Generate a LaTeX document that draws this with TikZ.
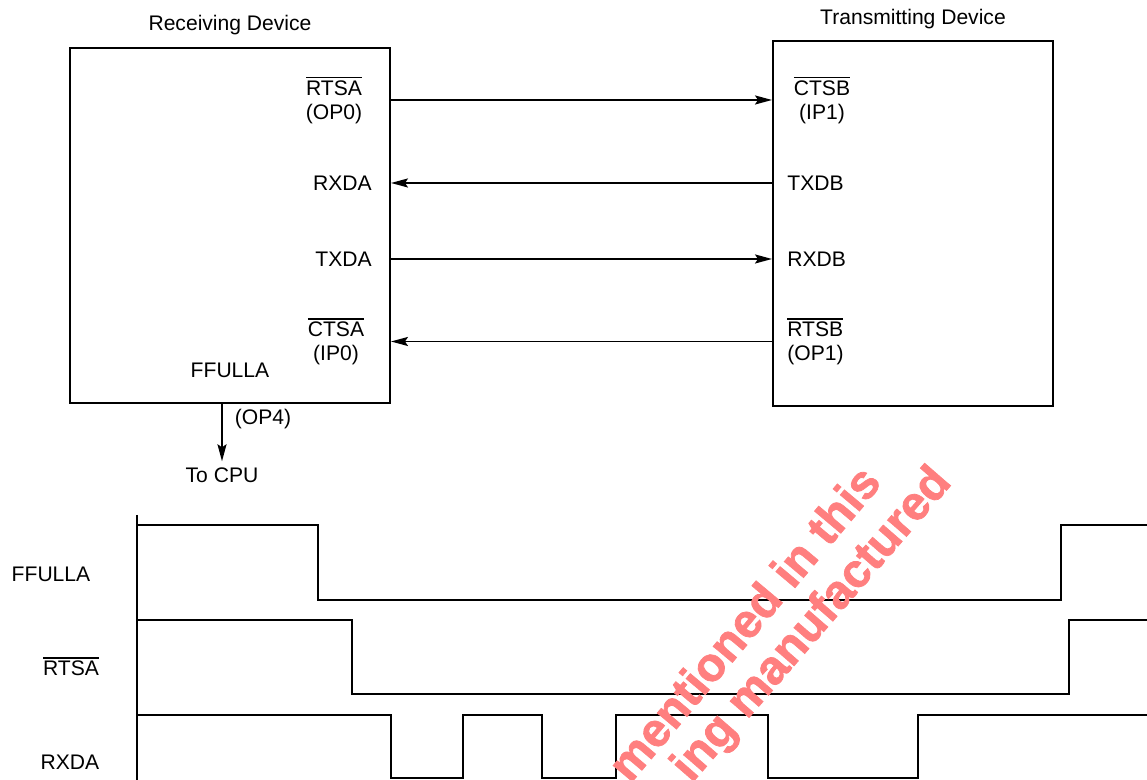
\documentclass[tikz,border=0pt]{standalone}
\usepackage{fontspec}
\setmainfont{Liberation Sans}
\newfontfamily\stampFont[BoldFeatures={FakeBold=1.6}]{Liberation Sans}
\usepackage{xcolor}
\usepackage{tikz}
\usetikzlibrary{arrows.meta, positioning}
\definecolor{stampRed}{HTML}{FF7F7F}
\newcommand{\actLow}[1]{\leavevmode\vbox{\hrule height 1pt\kern1.3pt\hbox{#1}}}

\begin{document}
\begin{tikzpicture}[
    every node/.style={font=\fontsize{12}{13.5}\selectfont},
    port/.style={inner sep=2pt},
    device/.style={draw, line width=1.1pt, minimum width=6.4cm, minimum height=7.1cm},
    wire/.style={line width=1.1pt},
    wave/.style={line width=1.1pt},
    stamp/.style={font=\stampFont\fontsize{27}{30}\selectfont\bfseries, text=stampRed, rotate=50, inner sep=0pt},
    >={Stealth[length=3.4mm, width=1.8mm, inset=0.6mm]}
  ]
  \useasboundingbox (0,0) rectangle (22.94,15.6);

  % ── Receiving device (left) ─────────────────────────────────────────────
  \node[device] (recv) at (4.6, 11.09) {};
  \node at (4.6, 15.1) (recvTitle) {Receiving Device};
  \node[port, align=center] (rtsa) at (6.68, 13.6) {\actLow{RTSA}\\(OP0)};
  \node[port, anchor=east] (rxda) at (7.51, 11.94) {RXDA};
  \node[port, anchor=east] (txda) at (7.51, 10.42) {TXDA};
  \node[port, align=center] (ctsa) at (6.72, 8.77) {\actLow{CTSA}\\(IP0)};
  \node[port] (ffulla) at (4.6, 8.2) {FFULLA};

  % ── Transmitting device (right) ─────────────────────────────────────────
  \node[device, minimum width=5.6cm, minimum height=7.3cm] (xmit) at (18.26, 11.13) {};
  \node at (18.26, 15.22) (xmitTitle) {Transmitting Device};
  \node[port, align=center] (ctsb) at (16.44, 13.6) {\actLow{CTSB}\\(IP1)};
  \node[port, anchor=west] (txdb) at (15.67, 11.94) {TXDB};
  \node[port, anchor=west] (rxdb) at (15.67, 10.42) {RXDB};
  \node[port, anchor=west, align=left] (rtsb) at (15.67, 8.77) {\actLow{RTSB}\\(OP1)};

  % Handshake lines
  \draw[wire, ->] (recv.east |- rtsa) -- (xmit.west |- rtsa);
  \draw[wire, ->] (xmit.west |- rxda) -- (recv.east |- rxda);
  \draw[wire, ->] (recv.east |- txda) -- (xmit.west |- txda);
  \draw[wire, ->] (xmit.west |- ctsa) -- (recv.east |- ctsa);

  % FIFO full flag out to the CPU
  \node (tocpu) at (4.44, 6.1) {To CPU};
  \node (op4) at (5.26, 7.22) {(OP4)};
  \draw[wire, ->] (recv.south -| tocpu) -- (tocpu.north);

  % ── Timing (bottom) ─────────────────────────────────────────────────────
  \node (lblFfulla) at (1.02, 4.12) {FFULLA};
  \node (lblRtsa) at (1.42, 2.27) {\actLow{RTSA}};
  \node (lblRxda) at (1.4, 0.36) {RXDA};

  \draw[wave] (2.74, 5.3) -- (2.74, -0.1);
  \draw[wave] (2.74, 5.1) -| (6.36, 3.6) -| (21.22, 5.1) -- (23, 5.1);
  \draw[wave] (2.74, 3.2) -| (7.04, 1.72) -| (21.38, 3.2) -- (23, 3.2);
  \draw[wave] (2.74, 1.3) -| (7.82, 0.04) -| (9.26, 1.3) -| (10.84, 0.04)
    -| (12.32, 1.3) -| (15.36, 0.04) -| (18.36, 1.3) -- (23, 1.3);

  % Stamp across the waveforms
  \node[stamp, anchor=base east] (stampA) at (17.66, 5.94) {mentioned in this};
  \node[stamp, anchor=base east, rotate=-1] (stampB) at (19.06, 5.94) {ing manufactured};

\end{tikzpicture}
\end{document}
